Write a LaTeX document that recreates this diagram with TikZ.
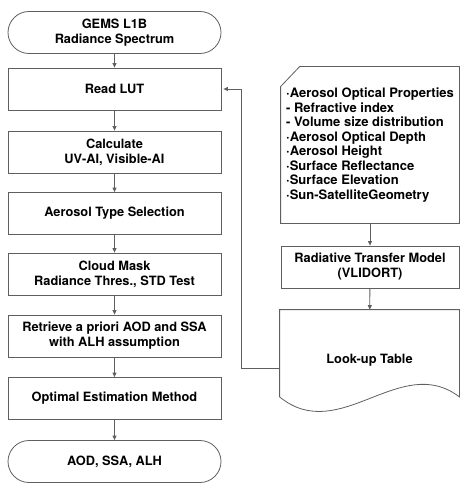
\documentclass[tikz,border=0pt]{standalone}
\usepackage{fontspec}
\setmainfont{TeX Gyre Heros}
\usetikzlibrary{arrows.meta}
\definecolor{linegray}{RGB}{95,95,95}

\begin{document}
\begin{tikzpicture}[x=1pt,y=-1pt,line width=0.8pt,
   every node/.style={font=\bfseries\fontsize{12.8}{15}\selectfont,align=center},
   stepbox/.style={draw=linegray,minimum width=213pt,minimum height=42pt,inner sep=2pt},
   termbox/.style={stepbox,rounded corners=21pt},
   rightbox/.style={minimum width=178pt,minimum height=42pt,inner sep=2pt},
   arrow/.style={draw=linegray,-{Triangle[length=4.5pt,width=4pt]}}]
\useasboundingbox (0,0) rectangle (474,494);

% left column
\node[termbox] (start) at (114.5,32.5) {GEMS L1B\\Radiance Spectrum};
\node[stepbox] (readlut) at (114.5,89) {Read LUT};
\node[stepbox] (calc) at (114.5,152) {Calculate\\UV-AI, Visible-AI};
\node[stepbox] (type) at (114.5,213.5) {Aerosol Type Selection};
\node[stepbox] (cloud) at (114.5,274) {Cloud Mask\\Radiance Thres., STD Test};
\node[stepbox] (apriori) at (114.5,336) {Retrieve a priori AOD and SSA\\with ALH assumption};
\node[stepbox] (oem) at (114.5,398.5) {Optimal Estimation Method};
\node[termbox] (result) at (114.5,461.5) {AOD, SSA, ALH};

\draw[arrow] (start) -- (readlut);
\draw[arrow] (readlut) -- (calc);
\draw[arrow] (calc) -- (type);
\draw[arrow] (type) -- (cloud);
\draw[arrow] (cloud) -- (apriori);
\draw[arrow] (apriori) -- (oem);
\draw[arrow] (oem) -- (result);

% right column
\node[rightbox,minimum height=156pt,align=left,
      font=\bfseries\fontsize{13}{14.5}\selectfont] (props) at (370,145)
   {·Aerosol Optical Properties\\
    - Refractive index\\
    - Volume size distribution\\
    ·Aerosol Optical Depth\\
    ·Aerosol Height\\
    ·Surface Reflectance\\
    ·Surface Elevation\\
    ·Sun-SatelliteGeometry};
\draw[linegray] ([yshift=-20pt]props.north west) -- ([xshift=19pt]props.north west)
   -- (props.north east) -- (props.south east) -- (props.south west) -- cycle;

\node[rightbox,draw=linegray] (rtm) at (370,267) {Radiative Transfer Model\\(VLIDORT)};

\node[rightbox,minimum height=101pt,minimum width=179pt] (lut) at (369.5,360.5) {Look-up Table};
\draw[linegray] (lut.north west) -- (lut.north east) -- ([yshift=14.5pt]lut.south east)
   .. controls +(-59,-45) and +(60,49) .. ([yshift=14.5pt]lut.south west) -- cycle;

\draw[arrow] (props) -- (rtm);
\draw[arrow] (rtm) -- (lut);
\draw[arrow,shorten >=2pt] ([yshift=-7.5pt]lut.west) -- ++(-38,0) |- (readlut.east);

\end{tikzpicture}
\end{document}
